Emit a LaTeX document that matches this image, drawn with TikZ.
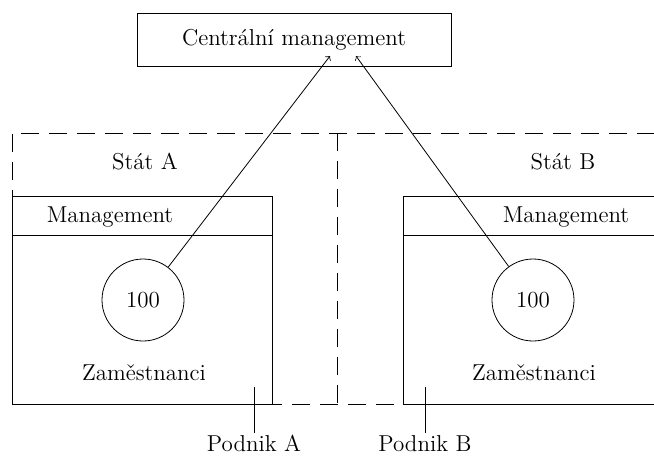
\documentclass[tikz,border=0pt]{standalone}
\usepackage{fontspec}
\begin{document}
\begin{tikzpicture}[
          x=0.5pt, y=-0.5pt,
          every node/.style={font=\fontsize{11.5pt}{14pt}\selectfont},
          box/.style={draw, rectangle, inner sep=0pt},
          unit/.style={draw, circle, minimum size=41pt, inner sep=0pt},
          statebd/.style={dashed, dash pattern=on 9pt off 5pt},
          lbl/.style={inner sep=1pt}
        ]
        \useasboundingbox (0,0) rectangle (654,456);
        \node[box, minimum width=157pt, minimum height=26.5pt] (central) at (294,40) {Centrální management};
        % states
        \draw[statebd] (12,404) -- (12,133) -- (654,133);
        \draw[statebd] (337,133) -- (337,404);
        \draw[statebd] (12,404) -- (403,404);
        \node (statA) at (145,162) {Stát A};
        \node (statB) at (563,162) {Stát B};
        % podnik A
        \draw (12,196) rectangle (272,404);
        \draw (12,235) -- (272,235);
        \node (mgmtA) at (110,217) {Management};
        \node[unit] (circA) at (143,300) {100};
        \node (zamA) at (144,373) {Zaměstnanci};
        % podnik B
        \draw (654,196) -- (403,196) -- (403,404) -- (654,404);
        \draw (403,235) -- (654,235);
        \node (mgmtB) at (566,217) {Management};
        \node[unit] (circB) at (533,300) {100};
        \node (zamB) at (534,373) {Zaměstnanci};
        % arrows
        \coordinate (endA) at (330,56);
        \coordinate (endB) at (356,56);
        \draw[->] (circA) -- (endA);
        \draw[->] (circB) -- (endB);
        % labels
        \node[lbl, anchor=north] (podA) at (254,433) {Podnik A};
        \node[lbl, anchor=north] (podB) at (425,433) {Podnik B};
        \coordinate (topA) at (254,387);
        \coordinate (topB) at (425,387);
        \draw (topA) -- (podA.north);
        \draw (topB) -- (podB.north);
        \end{tikzpicture}
\end{document}
